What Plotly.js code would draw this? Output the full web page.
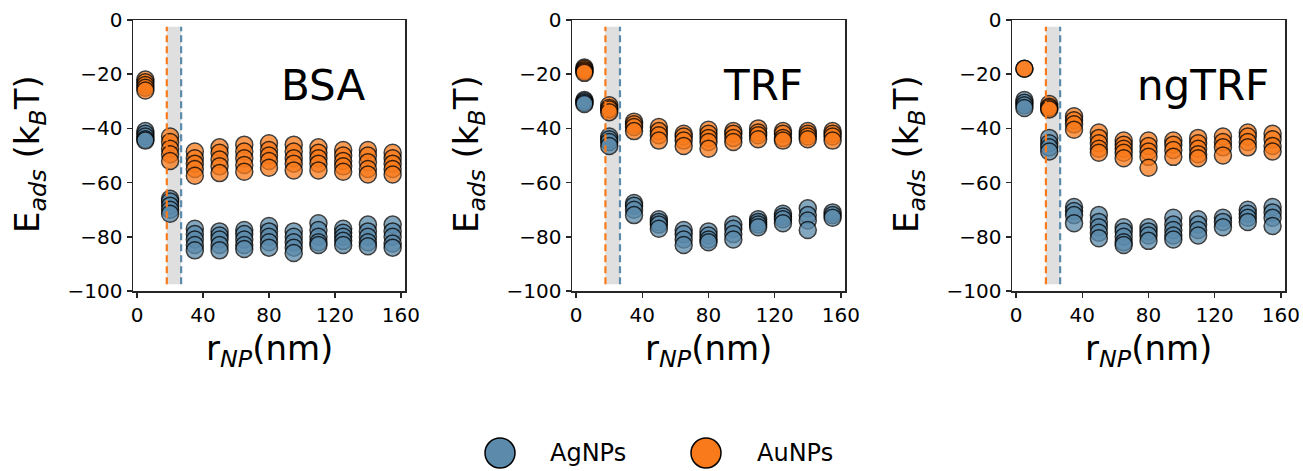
<!DOCTYPE html>
<html>
<head>
<meta charset="utf-8">
<script src="https://cdn.plot.ly/plotly-3.0.1.min.js"></script>
<style>html,body{margin:0;padding:0;background:#fff;}#chart{width:1303px;height:471px;}</style>
</head>
<body>
<div id="chart"></div>
<script>
// ---- data ----
const radii = [5, 20, 35, 50, 65, 80, 95, 110, 125, 140, 155];
const proteins = ["BSA", "TRF", "ngTRF"];
const seriesNames = ["AgNPs", "AuNPs"];
const xTicks = [0, 40, 80, 120, 160];
const yTicks = [0, -20, -40, -60, -80, -100];
const xTitle = "r<sub><i>NP</i></sub>(nm)";
const yTitle = "E<sub><i>ads</i></sub> (k<sub><i>B</i></sub>T)";

// E_ads (kBT) values, one list per radius
const bsaAg = [
  [-41, -42, -43, -44, -44.5], [-66, -67, -68.5, -70, -71.5], [-77, -79, -81, -83, -85],
  [-78, -79.5, -81, -83, -85], [-77.5, -79, -81, -83, -84.5], [-76, -78, -80, -82, -84],
  [-78, -80, -82, -84, -86], [-75, -77.5, -80, -82, -83], [-77, -78.5, -80, -81.5, -83],
  [-75.5, -78, -80, -82, -83.5], [-75.5, -78, -80, -82.5, -84]
];
const bsaAu = [
  [-22, -23, -24, -25, -26], [-43, -45, -47.5, -49.5, -52], [-48.5, -51, -53, -55, -57.5],
  [-47, -49, -51.5, -54, -56.5], [-46, -48.5, -51, -53.5, -56], [-45.5, -48, -50, -52, -54.5],
  [-46, -48.5, -51, -53, -55.5], [-47, -49, -51, -53, -55.5], [-48, -50, -52, -54, -56],
  [-48, -50, -52.5, -55, -57], [-49, -51, -53, -55, -57]
];
const trfAg = [
  [-29.5, -30, -30.5, -31], [-43, -44, -45, -46.5], [-67.5, -68.5, -70, -72],
  [-73.5, -74.5, -75.5, -77], [-77.5, -79, -81, -83], [-78, -79.5, -81, -82],
  [-75.5, -77, -79, -81], [-73.5, -74.5, -75.5, -76.5], [-71.5, -72.5, -73.5, -75],
  [-69.5, -72, -74, -77.5], [-71, -72, -73]
];
const trfAu = [
  [-17.5, -18, -18.5, -19, -19.5], [-31.5, -32.5, -33, -34], [-37.5, -38.5, -39.5, -41],
  [-39.5, -41, -42.5, -44.5], [-42, -43, -44.5, -46.5], [-40.5, -42, -43.5, -45, -47.5],
  [-41, -42, -43.5, -45], [-40, -41.5, -42.5, -44], [-41, -42, -43.5, -44.5],
  [-41, -42, -43, -44], [-41, -42, -43, -44.5]
];
const ngtrfAg = [
  [-29.5, -30.5, -31.5, -32.5], [-43.5, -45.5, -47, -48.5], [-69, -70.5, -72, -75],
  [-72, -74.5, -76.5, -78.5, -80.5], [-76.5, -78, -80, -82, -83], [-76.5, -78, -79.5, -81.5],
  [-73, -75.5, -77.5, -79.5, -81], [-73.5, -75.5, -77.5, -79.5], [-73, -74.5, -76.5],
  [-70, -71.5, -73, -74.5], [-69, -71, -73, -76]
];
const ngtrfAu = [
  [-18, -18], [-31, -32, -32.5, -33], [-35.5, -37, -38.5, -40.5],
  [-41.5, -43.5, -45.5, -47.5, -49], [-44.5, -46, -47.5, -49, -51], [-44.5, -46.5, -48.5, -50.5, -54.5],
  [-44.5, -46, -48, -50.5], [-43.5, -45.5, -47.5, -49.5, -51], [-43, -45, -47, -50],
  [-41.5, -43, -45, -47], [-42, -44, -46.5, -48.5]
];
// critical radii (nm): Au threshold (orange dashed) and Ag threshold (blue dashed)
const auThreshold = [18, 17.7, 18];
const agThreshold = [26.7, 26.5, 26.6];

// ---- styling ----
const FONT = "DejaVu Sans, Liberation Sans, sans-serif";
const agColor = "#5b8aab";
const auColor = "#f97a1a";
const W = 1303;
const plotLeft = [133, 572, 1012];
const plotRight = [405, 845, 1285];
const PLOT_BOTTOM = 291, PLOT_H = 271;
const agData = [bsaAg, trfAg, ngtrfAg];
const auData = [bsaAu, trfAu, ngtrfAu];
const paperY = py => (PLOT_BOTTOM - py) / PLOT_H;

function flatten(groups) {
  const xs = [], ys = [];
  groups.forEach((vals, i) => vals.forEach(v => { xs.push(radii[i]); ys.push(v); }));
  return { xs, ys };
}

const traces = [];
const shapes = [];
const annotations = [];
const layout = {
  width: 1303, height: 471,
  margin: { l: 0, r: 0, t: 20, b: 180 },
  paper_bgcolor: "#fff", plot_bgcolor: "#fff",
  showlegend: false,
  font: { family: FONT, color: "#000" },
};

proteins.forEach((p, k) => {
  const n = k === 0 ? "" : String(k + 1);
  const xa = "x" + n, ya = "y" + n;
  [[agData[k], agColor, seriesNames[0]], [auData[k], auColor, seriesNames[1]]].forEach(([d, c, nm]) => {
    const f = flatten(d);
    traces.push({
      type: "scatter", mode: "markers", name: nm, x: f.xs, y: f.ys, xaxis: xa, yaxis: ya,
      marker: { size: 17, color: c, opacity: 0.75, line: { color: "#000", width: 1.5 } },
      hoverinfo: "x+y"
    });
  });
  const axCommon = {
    showline: true, linecolor: "#262626", linewidth: 1.5, mirror: true,
    ticks: "outside", ticklen: 5, tickwidth: 1.5, tickcolor: "#262626",
    showgrid: false, zeroline: false,
    tickfont: { family: FONT, size: 20, color: "#000" },
  };
  layout["xaxis" + n] = Object.assign({}, axCommon, {
    domain: [plotLeft[k] / W, plotRight[k] / W], anchor: ya, range: [-2.5, 162.5],
    tickmode: "array", tickvals: xTicks,
  });
  layout["yaxis" + n] = Object.assign({}, axCommon, {
    domain: [0, 1], anchor: xa, range: [-100, 0],
    tickmode: "array", tickvals: yTicks,
  });
  // axis titles
  annotations.push({
    xref: "paper", yref: "paper", x: (plotLeft[k] + plotRight[k]) / 2 / W, y: paperY(350),
    text: xTitle, showarrow: false, xanchor: "center", yanchor: "middle",
    font: { family: FONT, size: 34, color: "#000" }
  });
  annotations.push({
    xref: "paper", yref: "paper", x: (plotLeft[k] - 104) / W, y: paperY(154),
    text: yTitle, showarrow: false, xanchor: "center", yanchor: "middle", textangle: -90,
    font: { family: FONT, size: 34, color: "#000" }
  });
  // shaded region between thresholds
  shapes.push({
    type: "rect", xref: xa, yref: ya + " domain", x0: auThreshold[k], x1: agThreshold[k], y0: 0.025, y1: 0.975,
    fillcolor: "rgba(128,128,128,0.25)", line: { width: 0 }, layer: "below"
  });
  shapes.push({
    type: "line", xref: xa, yref: ya + " domain", x0: auThreshold[k], x1: auThreshold[k], y0: 0.025, y1: 0.975,
    line: { color: auColor, width: 2.2, dash: "7px,4px" }, layer: "above"
  });
  shapes.push({
    type: "line", xref: xa, yref: ya + " domain", x0: agThreshold[k], x1: agThreshold[k], y0: 0.025, y1: 0.975,
    line: { color: agColor, width: 2.2, dash: "7px,4px" }, layer: "above"
  });
  annotations.push({
    xref: xa + " domain", yref: ya + " domain", x: 0.7, y: 0.76, text: p, showarrow: false,
    xanchor: "center", yanchor: "middle", font: { family: FONT, size: 42, color: "#000" }
  });
});

// custom legend (large markers)
const legY = paperY(453);
const legItems = [[500, 548, agColor, seriesNames[0]], [706, 755, auColor, seriesNames[1]]];
legItems.forEach(([cx, tx, c, nm]) => {
  shapes.push({
    type: "circle", xref: "paper", yref: "paper", xsizemode: "pixel", ysizemode: "pixel",
    xanchor: cx / W, yanchor: legY, x0: -15, x1: 15, y0: -15, y1: 15,
    fillcolor: c, line: { color: "#000", width: 1.5 }
  });
  annotations.push({
    xref: "paper", yref: "paper", x: tx / W, y: legY, text: nm, showarrow: false,
    xanchor: "left", yanchor: "middle", font: { family: FONT, size: 24, color: "#000" }
  });
});

layout.shapes = shapes;
layout.annotations = annotations;
Plotly.newPlot("chart", traces, layout, { displayModeBar: false, staticPlot: true });
</script>
</body>
</html>
